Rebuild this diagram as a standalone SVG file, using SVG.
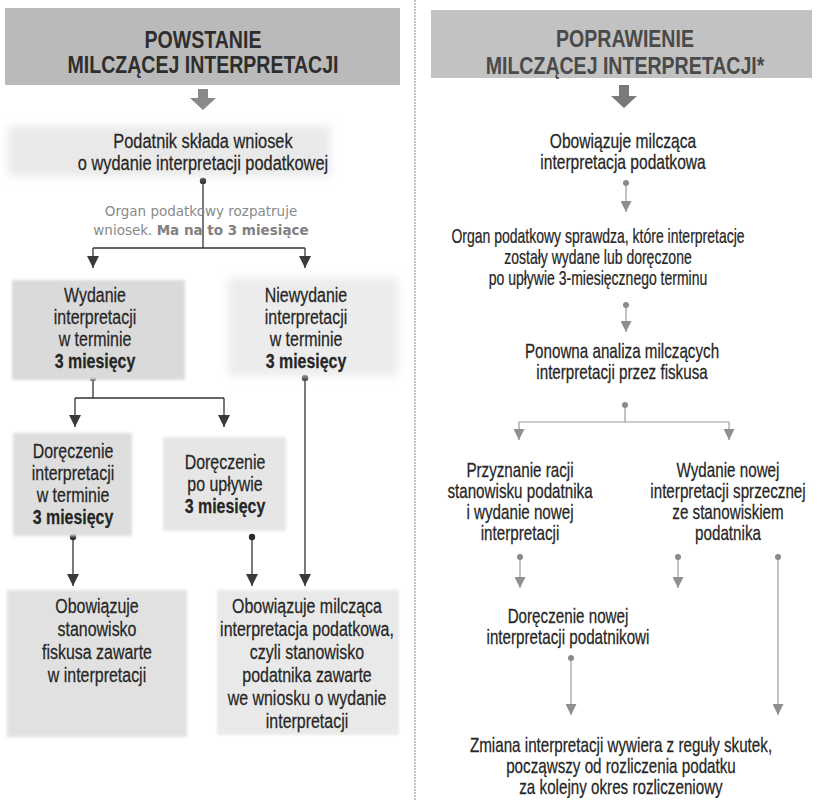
<svg xmlns="http://www.w3.org/2000/svg" width="817" height="800" viewBox="0 0 817 800">
<defs>
<style>
.t{font-family:"Liberation Sans",Arial,sans-serif;font-size:21px;fill:#262626;stroke:#262626;stroke-width:0.25;text-anchor:middle}
.tr{font-family:"Liberation Sans",Arial,sans-serif;font-size:20px;fill:#262626;stroke:#262626;stroke-width:0.25;text-anchor:middle}
.b{font-weight:bold}
.h{font-family:"Liberation Sans",Arial,sans-serif;font-size:23px;font-weight:bold;text-anchor:middle}
.g{font-family:"DejaVu Sans","Liberation Sans",sans-serif;font-size:13.5px;fill:#8a8a8a;text-anchor:middle}
.gb{font-weight:bold;fill:#808080}
.cl{fill:none;stroke:#333;stroke-width:1.3}
.cr{fill:none;stroke:#9a9a9a;stroke-width:1.2}
.al{marker-end:url(#ahL)}
.ar{marker-end:url(#ahR)}
.dl{fill:#2a2a2a}
.dr{fill:#8a8a8a}
</style>
<marker id="ahL" markerUnits="userSpaceOnUse" markerWidth="12" markerHeight="12" viewBox="0 0 12 12" refX="12" refY="6" orient="auto"><path d="M0,0 L12,6 L0,12 Z" fill="#3a3a3a"/></marker>
<marker id="ahR" markerUnits="userSpaceOnUse" markerWidth="11" markerHeight="11" viewBox="0 0 12 12" refX="12" refY="6" orient="auto"><path d="M0,0 L12,6 L0,12 Z" fill="#8f8f8f"/></marker>
<filter id="soft" x="-10%" y="-20%" width="120%" height="140%"><feGaussianBlur stdDeviation="4"/></filter>
<filter id="soft2" x="-10%" y="-10%" width="120%" height="120%"><feGaussianBlur stdDeviation="1.5"/></filter>
</defs>
<rect width="817" height="800" fill="#fff"/>
<line x1="415" y1="0" x2="415" y2="800" stroke="#b0b0b0" stroke-width="1.5" stroke-dasharray="2 1"/>

<g id="header-left">
<rect x="5" y="8" width="395" height="77" fill="#bababa"/>
<g transform="translate(203 0) scale(0.85 1)"><text class="h" fill="#2e2e2e"><tspan x="0" y="48">POWSTANIE</tspan><tspan x="0" y="73">MILCZĄCEJ INTERPRETACJI</tspan></text></g>
<path d="M198,89 H208 V98 H216 L203,110 L190,98 H198 Z" fill="#8a8a8a"/>
</g>
<g id="header-right">
<rect x="431" y="10" width="381" height="68" fill="#c2c2c2"/>
<g transform="translate(625 0) scale(0.85 1)"><text class="h" fill="#4a4a4a"><tspan x="0" y="47">POPRAWIENIE</tspan><tspan x="0" y="74">MILCZĄCEJ INTERPRETACJI*</tspan></text></g>
<path d="M619,85 H629 V96 H637 L624,108 L611,96 H619 Z" fill="#7a7a7a"/>
</g>

<g id="connectors">
<path class="cl" d="M203,181 V248 M93,248 H305"/>
<path class="cl al" d="M93,248 V268"/>
<path class="cl al" d="M305,248 V268"/>
<path class="cl" d="M93,378 V398 M75,398 H224"/>
<path class="cl al" d="M75,398 V427"/>
<path class="cl al" d="M224,398 V427"/>
<path class="cl al" d="M305,378 V586"/>
<path class="cl al" d="M73,537 V586"/>
<path class="cl al" d="M252,537 V586"/>
<circle class="dl" cx="203" cy="181" r="3.2"/>
<circle class="dl" cx="93" cy="378" r="3.2"/>
<circle class="dl" cx="305" cy="378" r="3.2"/>
<circle class="dl" cx="73" cy="537" r="3.2"/>
<circle class="dl" cx="252" cy="537" r="3.2"/>
<path class="cr ar" d="M626,183 V212"/>
<path class="cr ar" d="M626,305 V332"/>
<path class="cr" d="M625,405 V422 M519,422 H729"/>
<path class="cr ar" d="M519,422 V440"/>
<path class="cr ar" d="M729,422 V440"/>
<path class="cr ar" d="M520,557 V588"/>
<path class="cr ar" d="M678,557 V588"/>
<path class="cr ar" d="M778,557 V715"/>
<path class="cr ar" d="M571,658 V715"/>
<circle class="dr" cx="626" cy="183" r="3"/>
<circle class="dr" cx="626" cy="305" r="3"/>
<circle class="dr" cx="625" cy="405" r="3"/>
<circle class="dr" cx="520" cy="557" r="3"/>
<circle class="dr" cx="678" cy="557" r="3"/>
<circle class="dr" cx="778" cy="557" r="3"/>
<circle class="dr" cx="571" cy="658" r="3"/>
</g>

<g id="n-podatnik">
<rect x="8" y="126" width="322" height="50" fill="#e9e9e9" filter="url(#soft)"/>
<g transform="translate(203 0) scale(0.78 1)"><text class="t"><tspan x="0" y="148">Podatnik składa wniosek</tspan><tspan x="0" y="170">o wydanie interpretacji podatkowej</tspan></text></g>
</g>
<g id="n-organ-rozpatruje">
<text class="g"><tspan x="201" y="216">Organ podatkowy rozpatruje</tspan><tspan x="201" y="235">wniosek. <tspan class="gb">Ma na to 3 miesiące</tspan></tspan></text>
</g>
<g id="n-wydanie">
<rect x="12" y="280" width="173" height="100" fill="#dadada" filter="url(#soft2)"/>
<g transform="translate(95 0) scale(0.76 1)"><text class="t"><tspan x="0" y="302">Wydanie</tspan><tspan x="0" y="324">interpretacji</tspan><tspan x="0" y="346">w terminie</tspan><tspan x="0" y="368" class="b">3 miesięcy</tspan></text></g>
</g>
<g id="n-niewydanie">
<rect x="228" y="278" width="170" height="98" fill="#ececec" filter="url(#soft)"/>
<g transform="translate(306 0) scale(0.76 1)"><text class="t"><tspan x="0" y="302">Niewydanie</tspan><tspan x="0" y="324">interpretacji</tspan><tspan x="0" y="346">w terminie</tspan><tspan x="0" y="368" class="b">3 miesięcy</tspan></text></g>
</g>
<g id="n-doreczenie-w-terminie">
<rect x="13" y="433" width="119" height="103" fill="#dedede" filter="url(#soft2)"/>
<g transform="translate(73 0) scale(0.76 1)"><text class="t"><tspan x="0" y="458">Doręczenie</tspan><tspan x="0" y="480">interpretacji</tspan><tspan x="0" y="502">w terminie</tspan><tspan x="0" y="524" class="b">3 miesięcy</tspan></text></g>
</g>
<g id="n-doreczenie-po">
<rect x="163" y="437" width="123" height="94" fill="#e6e6e6" filter="url(#soft2)"/>
<g transform="translate(225 0) scale(0.76 1)"><text class="t"><tspan x="0" y="469">Doręczenie</tspan><tspan x="0" y="491">po upływie</tspan><tspan x="0" y="513" class="b">3 miesięcy</tspan></text></g>
</g>
<g id="n-obowiazuje-fiskus">
<rect x="7" y="590" width="180" height="147" fill="#e1e1e1" filter="url(#soft2)"/>
<g transform="translate(97 0) scale(0.76 1)"><text class="t"><tspan x="0" y="613">Obowiązuje</tspan><tspan x="0" y="636">stanowisko</tspan><tspan x="0" y="659">fiskusa zawarte</tspan><tspan x="0" y="682">w interpretacji</tspan></text></g>
</g>
<g id="n-obowiazuje-milczaca">
<rect x="217" y="590" width="182" height="145" fill="#e9e9e9" filter="url(#soft2)"/>
<g transform="translate(307 0) scale(0.76 1)"><text class="t"><tspan x="0" y="613">Obowiązuje milcząca</tspan><tspan x="0" y="636">interpretacja podatkowa,</tspan><tspan x="0" y="659">czyli stanowisko</tspan><tspan x="0" y="682">podatnika zawarte</tspan><tspan x="0" y="705">we wniosku o wydanie</tspan><tspan x="0" y="728">interpretacji</tspan></text></g>
</g>

<g id="r-obowiazuje">
<g transform="translate(623 0) scale(0.78 1)"><text class="tr"><tspan x="0" y="148">Obowiązuje milcząca</tspan><tspan x="0" y="169">interpretacja podatkowa</tspan></text></g>
</g>
<g id="r-organ-sprawdza">
<g transform="translate(598 0) scale(0.70 1)"><text class="tr"><tspan x="0" y="243">Organ podatkowy sprawdza, które interpretacje</tspan><tspan x="0" y="264">zostały wydane lub doręczone</tspan><tspan x="0" y="285">po upływie 3-miesięcznego terminu</tspan></text></g>
</g>
<g id="r-ponowna">
<g transform="translate(622 0) scale(0.76 1)"><text class="tr"><tspan x="0" y="358">Ponowna analiza milczących</tspan><tspan x="0" y="379">interpretacji przez fiskusa</tspan></text></g>
</g>
<g id="r-przyznanie">
<g transform="translate(520 0) scale(0.76 1)"><text class="tr"><tspan x="0" y="477">Przyznanie racji</tspan><tspan x="0" y="498">stanowisku podatnika</tspan><tspan x="0" y="519">i wydanie nowej</tspan><tspan x="0" y="540">interpretacji</tspan></text></g>
</g>
<g id="r-wydanie-nowej">
<g transform="translate(728 0) scale(0.76 1)"><text class="tr"><tspan x="0" y="477">Wydanie nowej</tspan><tspan x="0" y="498">interpretacji sprzecznej</tspan><tspan x="0" y="519">ze stanowiskiem</tspan><tspan x="0" y="540">podatnika</tspan></text></g>
</g>
<g id="r-doreczenie-nowej">
<g transform="translate(568 0) scale(0.76 1)"><text class="tr"><tspan x="0" y="623">Doręczenie nowej</tspan><tspan x="0" y="644">interpretacji podatnikowi</tspan></text></g>
</g>
<g id="r-zmiana">
<g transform="translate(621 0) scale(0.76 1)"><text class="tr"><tspan x="0" y="752">Zmiana interpretacji wywiera z reguły skutek,</tspan><tspan x="0" y="773">począwszy od rozliczenia podatku</tspan><tspan x="0" y="794">za kolejny okres rozliczeniowy</tspan></text></g>
</g>
</svg>
